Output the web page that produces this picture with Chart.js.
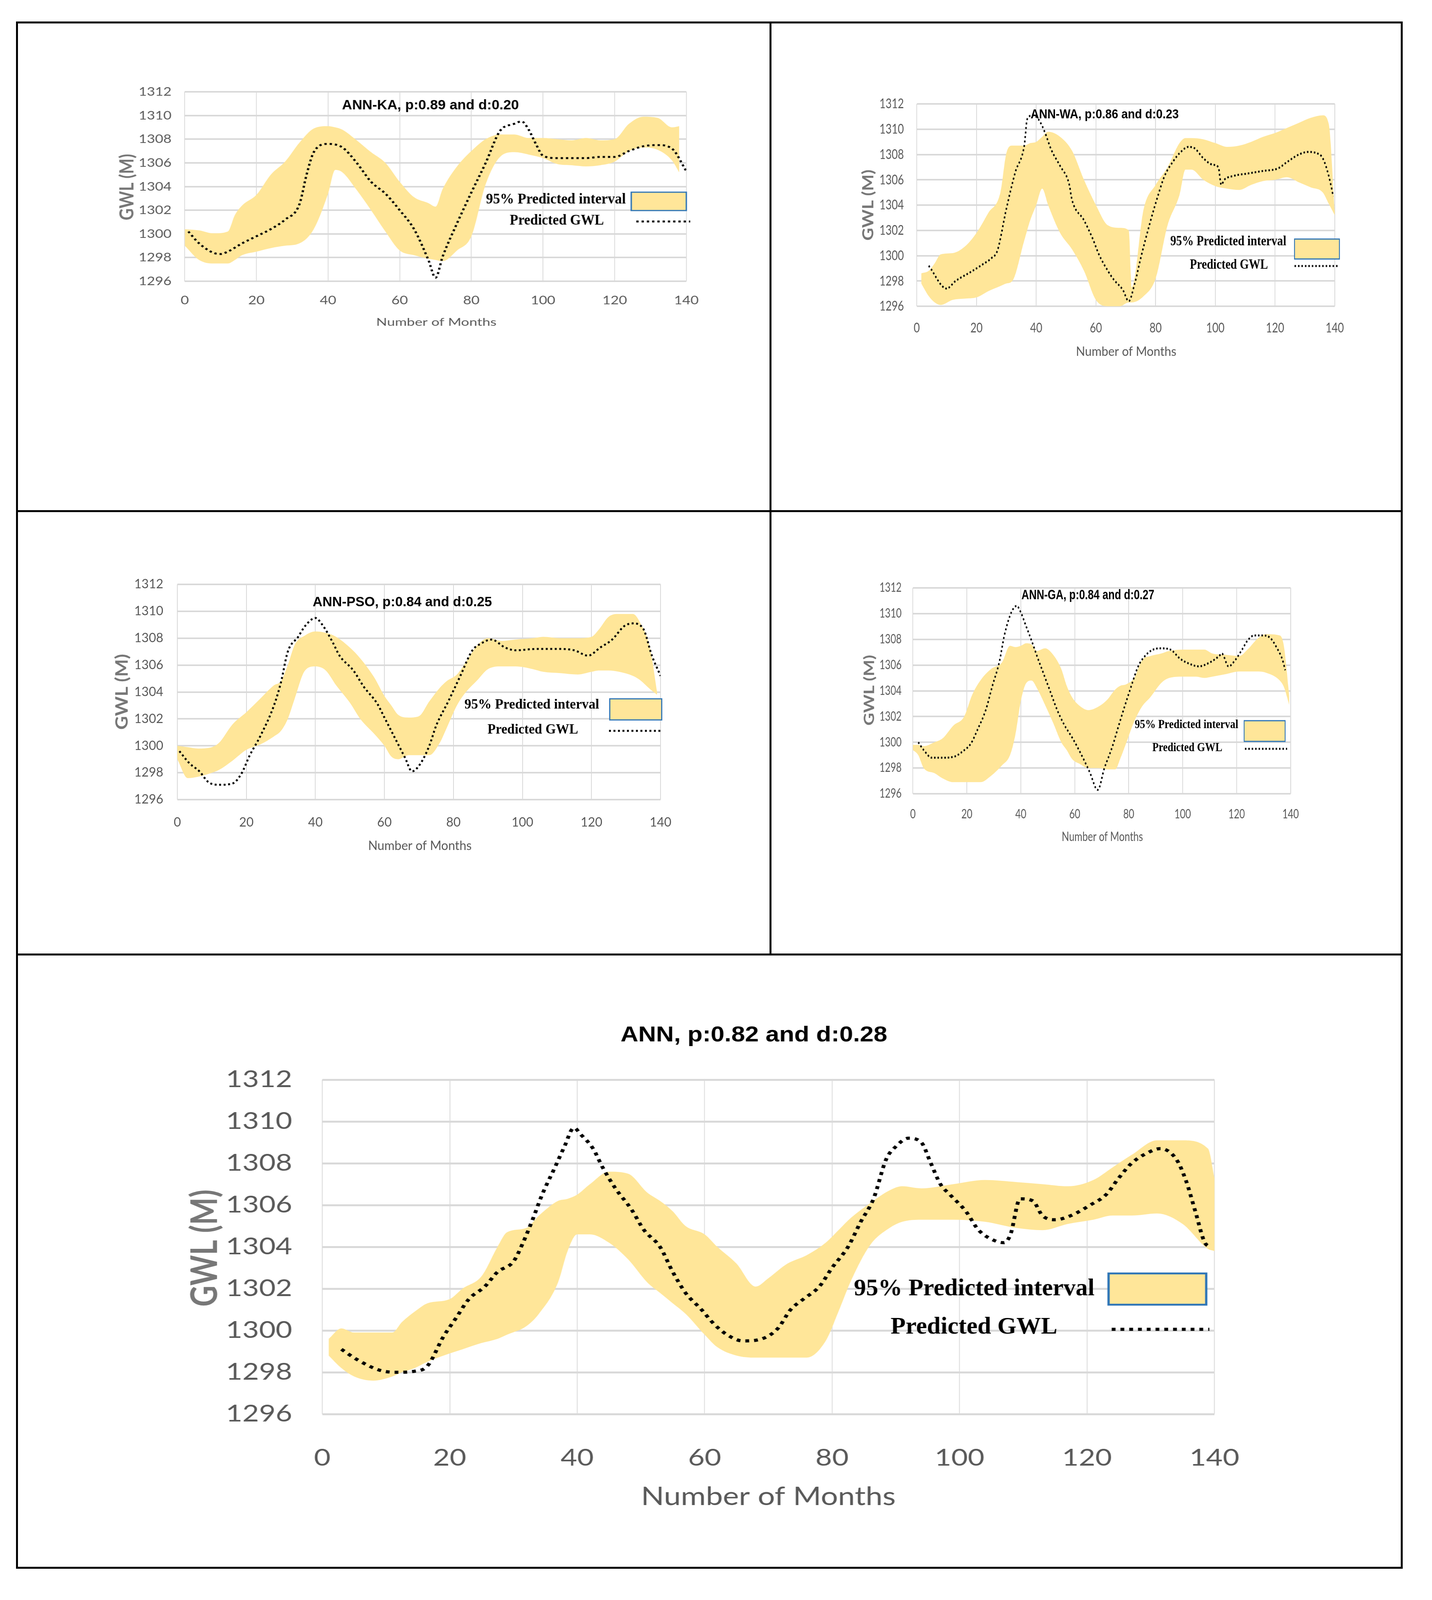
<!DOCTYPE html>
<html>
<head>
<meta charset="utf-8">
<title>GWL prediction intervals</title>
<script src="https://cdn.jsdelivr.net/npm/chart.js@4.4.1/dist/chart.umd.min.js"></script>
<style>
  html, body { margin: 0; padding: 0; background: #fff; }
  body { position: relative; width: 3666px; height: 5586px; overflow: hidden; }
  .rule { position: absolute; background: #000; z-index: 5; }
  .panel { position: absolute; transform-origin: 0 0; }
  .panel canvas { display: block; }
  #tag { position: absolute; left: 1627px; top: 4088px; width: 400px; text-align: center;
         font: bold 72px/72px "Liberation Serif", "Times New Roman", serif; color: #000; }
</style>
</head>
<body>
<div id="tag">(b)</div>
<script>
// ---- axes ----
const monthTicks = [0, 20, 40, 60, 80, 100, 120, 140];
const gwlTicks = [1296, 1298, 1300, 1302, 1304, 1306, 1308, 1310, 1312];

// ---- ANN-KA ----
const kaBandMonths = [0,4,8,12,14,16,20,24,28,32,36,40,42,44,48,52,56,60,64,68,70,72,76,80,84,88,92,96,100,104,108,112,116,120,124,128,132,136,138];
const kaUpper = [1300.4,1300.3,1300.05,1300.2,1301.6,1302.4,1303.3,1305.0,1306.1,1307.7,1308.9,1309.1,1309.0,1308.8,1307.9,1306.9,1306.0,1304.4,1303.1,1302.6,1302.3,1303.8,1305.7,1307.0,1308.0,1308.4,1308.4,1308.1,1308.1,1308.0,1307.9,1308.1,1307.9,1308.0,1309.3,1309.9,1309.8,1309.0,1309.1];
const kaLower = [1299.0,1297.8,1297.5,1297.5,1297.8,1298.2,1298.5,1298.8,1299.0,1299.2,1300.4,1303.4,1305.4,1305.2,1303.7,1302.0,1300.2,1298.6,1298.2,1297.9,1297.8,1297.7,1298.6,1299.8,1304.2,1306.5,1306.9,1306.7,1306.4,1305.9,1305.8,1305.7,1305.8,1306.1,1307.0,1307.3,1307.1,1306.2,1305.2];
const kaLineMonths = [1,4,8,10,12,16,20,24,28,32,34,36,40,44,48,52,56,60,64,68,70,72,76,80,84,88,92,94,96,98,100,104,108,112,116,120,124,128,132,136,140];
const kaPredicted = [1300.2,1299.2,1298.4,1298.3,1298.5,1299.2,1299.8,1300.4,1301.2,1302.5,1305.0,1306.9,1307.6,1307.3,1306.0,1304.4,1303.4,1302.0,1300.4,1297.8,1296.3,1298.1,1300.9,1303.5,1306.0,1308.7,1309.3,1309.5,1308.8,1307.6,1306.6,1306.4,1306.4,1306.4,1306.5,1306.5,1307.0,1307.4,1307.5,1307.2,1305.3];

// ---- ANN-WA ----
const waBandMonths = [1.5,4,6,8,12,16,20,24,28,30,32,36,38,40,42,44,48,52,56,60,64,68,71,72,76,80,84,88,90,92,96,100,104,108,112,116,120,124,128,132,136,138,140];
const waUpper = [1298.6,1298.8,1299.4,1300.1,1300.2,1300.7,1301.8,1303.4,1305.0,1308.1,1308.7,1308.7,1308.9,1309.0,1309.4,1309.8,1309.4,1308.3,1306.0,1304.0,1302.4,1302.2,1302.0,1297.5,1303.7,1305.6,1307.0,1308.9,1309.3,1309.3,1309.2,1308.9,1308.6,1308.7,1309.0,1309.4,1309.7,1310.1,1310.5,1310.9,1311.1,1310.4,1303.5];
const waLower = [1297.8,1296.8,1296.3,1296.1,1296.5,1296.6,1296.7,1297.2,1297.6,1297.8,1298.0,1301.2,1302.8,1304.0,1305.3,1304.0,1301.8,1300.5,1298.8,1296.5,1296.0,1296.0,1296.3,1296.3,1296.8,1298.2,1302.4,1304.8,1306.8,1306.8,1306.0,1305.5,1305.3,1305.2,1305.6,1305.9,1306.0,1306.2,1305.8,1305.4,1305.0,1304.1,1303.2];
const waLineMonths = [4,10,13,18,22,25,27,30,33,36,37,39,41,43,45,48,51,52,56,59,61,64,66,69,71,73,75,78,81,83,86,88,91,93,96,99,101,102,103,106,111,116,121,124,128,131,134,136,138,139.5];
const waPredicted = [1299.2,1297.4,1298.0,1298.7,1299.3,1299.8,1300.4,1303.7,1306.6,1308.7,1310.8,1311.1,1310.7,1309.7,1308.4,1307.1,1305.7,1304.4,1302.8,1301.3,1300.1,1298.8,1298.1,1297.3,1296.4,1297.8,1299.8,1302.5,1304.9,1306.3,1307.5,1308.1,1308.6,1308.5,1307.7,1307.2,1307.0,1305.6,1306.0,1306.3,1306.5,1306.7,1306.9,1307.4,1308.0,1308.2,1308.1,1307.7,1306.3,1304.7];

// ---- ANN-PSO ----
const psoBandMonths = [0,3,6,10,12,16,20,24,28,30,32,34,37,40,43,46,50,53,57,60,62,64,67,70,73,76,78,81,83,87,90,94,98,103,106,111,116,120,122,125,128,132,134,137,139];
const psoUpper = [1300.0,1299.9,1299.8,1299.9,1300.2,1301.6,1302.5,1303.5,1304.5,1304.8,1306.0,1307.5,1308.2,1308.5,1308.4,1308.1,1307.3,1306.5,1305.1,1303.7,1303.0,1302.3,1302.1,1302.2,1303.3,1304.3,1304.8,1305.3,1306.0,1307.5,1308.0,1307.8,1307.9,1308.0,1308.1,1308.0,1308.0,1308.1,1308.6,1309.6,1309.8,1309.8,1309.2,1307.2,1304.0];
const psoLower = [1299.0,1297.6,1297.7,1298.0,1298.2,1298.9,1299.7,1300.1,1300.7,1301.1,1302.0,1303.5,1305.6,1305.9,1305.6,1304.5,1303.2,1302.0,1300.9,1300.0,1299.2,1299.0,1299.3,1299.3,1299.3,1300.2,1301.3,1303.0,1303.8,1304.9,1305.7,1305.9,1305.9,1305.7,1305.5,1305.4,1305.3,1305.5,1305.6,1305.6,1305.5,1305.2,1304.9,1304.2,1303.8];
const psoLineMonths = [0.6,3.5,6.4,9,12,16,18.5,21,24,28,30,32,35,37,40,42,45,47,51,54,58,60,63,66,68,70.5,73,75,78.5,82,85.5,88,91,95,98,104,110,115,119,122.5,126,129.5,132,135,137.5,140];
const psoPredicted = [1299.6,1298.7,1298.1,1297.3,1297.1,1297.2,1297.9,1299.3,1300.7,1303.0,1304.7,1307.0,1308.1,1308.9,1309.5,1309.0,1307.7,1306.7,1305.6,1304.4,1303.1,1302.1,1300.6,1299.1,1298.1,1298.7,1300.0,1301.5,1303.3,1305.2,1307.1,1307.6,1307.9,1307.3,1307.1,1307.2,1307.2,1307.1,1306.7,1307.3,1307.9,1308.9,1309.1,1308.7,1306.7,1305.2];

// ---- ANN-GA ----
const gaBandMonths = [0,2,4,8,11,15,19,22,25,29,33,36,38,40,42,44,46,49,52,55,57,59,62,65,69,72,75,77,79,82,85,88,92,95,100,105,108,111,116,121,124,128,131,136,137.5,139.5];
const gaUpper = [1299.8,1299.8,1299.7,1300.0,1300.3,1301.3,1302.0,1303.7,1304.8,1305.7,1306.2,1307.5,1307.4,1307.5,1307.7,1307.6,1307.1,1307.3,1306.8,1305.7,1304.4,1303.5,1302.8,1302.5,1302.8,1303.3,1304.1,1304.4,1304.5,1305.0,1306.4,1306.7,1306.9,1307.1,1307.2,1307.2,1307.2,1306.9,1306.8,1306.7,1307.2,1308.1,1308.4,1308.3,1307.5,1303.6];
const gaLower = [1299.4,1299.0,1298.0,1297.6,1297.2,1296.9,1296.9,1296.9,1296.9,1297.4,1298.2,1299.0,1300.6,1303.2,1304.6,1304.8,1304.2,1302.9,1301.5,1300.0,1299.4,1298.7,1298.3,1298.0,1298.0,1297.9,1297.9,1298.8,1299.9,1301.6,1302.8,1303.5,1304.6,1305.0,1305.1,1305.1,1305.0,1305.1,1305.3,1305.5,1305.5,1305.5,1305.4,1304.8,1304.3,1302.9];
const gaLineMonths = [2,4,7,11,15.5,18.5,21.5,24,27,29.5,32,34,36.5,38.5,40,42,44,46,48.5,51,53.5,56,59.5,63,65.5,68.5,71,74,76,78.5,81,83.5,86,89,92,95.5,99,102.5,106,110,113.5,114.5,117,119.5,122,124,126.5,130,132.5,135,137,138];
const gaPredicted = [1300.0,1299.4,1298.8,1298.8,1298.9,1299.3,1299.9,1301.0,1302.5,1304.4,1306.2,1308.4,1310.1,1310.6,1310.1,1309.0,1307.9,1306.7,1305.3,1303.9,1302.5,1301.4,1300.2,1298.8,1297.7,1296.3,1298.0,1299.7,1301.1,1302.8,1304.4,1305.9,1306.7,1307.2,1307.3,1307.2,1306.5,1306.1,1305.9,1306.2,1306.7,1306.9,1305.9,1306.4,1307.2,1307.9,1308.3,1308.3,1308.1,1307.3,1306.4,1305.6];

// ---- ANN ----
const annBandMonths = [1,3,5,8,11,12.5,14.5,16.5,20,22,25,27.5,29,32,34,37,38.5,40,42,45,48,51,53,55,57,60,62,65,68,70,73,76,79,81,83,86,89,91,94,99,104,109,113,117,121,124,127,131,135,139,140];
const annUpper = [1299.6,1300.1,1299.9,1299.9,1299.9,1300.4,1300.9,1301.3,1301.5,1302.0,1302.6,1304.0,1304.7,1304.9,1305.5,1306.2,1306.3,1306.5,1307.0,1307.6,1307.5,1306.6,1306.2,1305.7,1305.0,1304.6,1304.0,1303.2,1302.1,1302.5,1303.2,1303.6,1304.2,1304.8,1305.4,1306.1,1306.7,1306.9,1306.8,1307.0,1307.2,1307.1,1307.0,1306.9,1307.2,1307.8,1308.4,1309.1,1309.1,1308.7,1307.3];
const annLower = [1298.8,1298.2,1297.8,1297.6,1297.8,1298.0,1298.2,1298.5,1298.9,1299.1,1299.4,1299.6,1299.8,1300.2,1300.8,1302.3,1303.8,1304.6,1304.6,1304.2,1303.4,1302.3,1301.8,1301.3,1300.8,1299.8,1299.2,1298.8,1298.7,1298.7,1298.7,1298.7,1299.5,1300.9,1302.4,1304.1,1304.9,1305.2,1305.3,1305.3,1305.2,1304.9,1304.8,1305.1,1305.3,1305.5,1305.5,1305.6,1305.1,1303.9,1303.8];
const annLineMonths = [3,5.5,9,11.5,14.5,16.5,19,21,23,25.5,27.5,30,31.5,33,34.5,36.5,38,39.5,40.5,42.5,44,46,48.5,50.5,53,55,57,59.5,61.5,63.5,66,69,71.5,73.5,75.5,78,80,82.5,84.5,86.5,88.5,90,92,94,95.5,97,98.5,101,103,105.5,107,108,109.5,111.5,113,115,117.5,120.5,123,125,127,129.5,131.5,134,135.5,137,138.5,139.5];
const annPredicted = [1299.1,1298.6,1298.1,1298.0,1298.05,1298.3,1299.7,1300.6,1301.5,1302.1,1302.8,1303.3,1304.2,1305.3,1306.5,1307.8,1308.8,1309.7,1309.4,1308.7,1307.8,1306.8,1305.8,1304.8,1304.0,1302.8,1301.8,1301.0,1300.3,1299.8,1299.5,1299.6,1300.1,1301.0,1301.5,1302.1,1303.0,1304.0,1305.2,1306.3,1308.2,1308.8,1309.2,1309.0,1308.0,1307.0,1306.5,1305.7,1304.8,1304.3,1304.2,1304.6,1306.3,1306.2,1305.5,1305.3,1305.5,1306.0,1306.5,1307.3,1308.0,1308.5,1308.7,1308.2,1307.2,1305.7,1304.2,1304.0];

// ---- ANN-GOA ----
const goaBandMonths = [0,2.5,6,9,11,14.5,18,19.5,22,25.5,27.5,30,32,35,38.5,40.5,42,45,48,51.5,55,57,59.5,62.5,65,67,69,71.5,73.5,75.5,78,81,83.5,86.5,91,95.5,100,104,108.5,113,116,118.5,121.5,125,128.5,132.5,137,138.5,140];
const goaUpper = [1300.7,1300.4,1300.4,1300.4,1300.8,1301.7,1302.5,1303.0,1304.1,1305.0,1305.9,1307.8,1309.1,1310.1,1310.4,1310.35,1310.3,1310.0,1309.6,1308.9,1307.8,1306.9,1305.7,1303.8,1302.6,1302.1,1302.1,1302.4,1303.3,1303.9,1305.0,1307.3,1309.5,1309.9,1310.0,1309.4,1309.3,1309.2,1309.4,1309.1,1309.4,1309.9,1309.6,1310.7,1311.2,1311.4,1311.6,1311.4,1304.0];
const goaLower = [1299.9,1298.9,1298.0,1297.3,1297.1,1297.0,1297.4,1297.7,1298.6,1299.0,1299.1,1299.3,1299.9,1301.4,1303.4,1305.0,1304.5,1305.4,1304.2,1303.0,1301.5,1300.4,1299.0,1298.3,1297.9,1297.8,1297.8,1297.9,1298.2,1298.4,1299.8,1302.2,1303.9,1306.3,1307.3,1306.7,1306.0,1305.6,1305.8,1306.2,1306.4,1306.5,1306.8,1307.3,1307.5,1307.3,1306.0,1305.2,1303.9];
const goaLineMonths = [0.5,2.5,5.5,8.5,11,14.5,16,18.5,21,24.5,27.5,31,34,37.5,39.5,42,43.5,45,48,50.5,54,57,60.5,63.5,65.5,66.5,68,71,72.5,74,76.5,79,82.5,85,87,89.5,91,93.5,96.5,100,104,108.5,111.5,114,117.5,120.5,124,127,130.5,134,135.5,137,138.5,140];
const goaPredicted = [1300.7,1299.6,1298.9,1298.1,1297.6,1297.6,1298.0,1298.9,1300.1,1301.4,1303.0,1304.7,1306.3,1308.1,1309.3,1309.6,1309.6,1309.1,1307.9,1306.7,1305.2,1303.3,1301.2,1299.6,1298.5,1297.3,1296.4,1296.5,1297.0,1298.3,1300.4,1302.4,1305.1,1307.0,1309.3,1311.0,1310.7,1310.0,1309.4,1308.9,1308.7,1308.7,1308.4,1308.3,1308.4,1309.0,1309.7,1310.5,1311.0,1311.5,1311.3,1309.6,1307.9,1306.7];

// ---- ANN-CSO ----
const csoBandMonths = [0,2,4,6.5,9,11,14.5,18,21.5,25,27,30.5,33,36,38.5,41,42.5,44,48,51,53.5,54.5,57,59,61.5,63,65,67.5,69.5,72,75,77.5,80,82,84.5,87.5,91,94.5,98,101.5,105,107.5,110.5,114,118.5,122,124,127.5,132,135.5,137.5,139,140];
const csoUpper = [1299.4,1299.1,1298.8,1299.0,1299.4,1299.9,1300.5,1301.6,1302.9,1303.7,1304.6,1306.2,1307.3,1307.9,1308.2,1308.3,1308.8,1308.3,1307.6,1307.1,1306.9,1307.3,1306.0,1304.9,1303.8,1303.3,1302.4,1301.3,1302.1,1302.4,1303.8,1305.9,1304.8,1306.3,1306.9,1307.6,1307.8,1307.4,1306.6,1306.6,1306.8,1307.2,1307.1,1306.8,1306.8,1307.1,1308.4,1308.9,1309.1,1308.9,1308.5,1305.6,1302.5];
const csoLower = [1298.7,1297.9,1297.2,1296.3,1296.2,1296.25,1296.4,1296.7,1297.0,1297.3,1297.6,1298.0,1298.3,1299.4,1301.0,1304.1,1304.4,1303.9,1302.9,1301.6,1300.2,1299.6,1298.2,1296.7,1296.4,1296.4,1296.4,1296.5,1296.6,1296.8,1297.3,1298.2,1299.6,1301.0,1303.0,1304.4,1304.7,1304.5,1304.0,1303.6,1303.5,1303.6,1303.6,1303.6,1303.8,1304.1,1304.6,1305.2,1305.2,1304.9,1304.3,1303.5,1302.4];
const csoLineMonths = [3,4.5,7,9,11,13,15,17.5,20.5,24,27,30,32.5,34,35.5,37.5,39.5,42,44.5,46.5,49,51,53.5,55.5,58,60.5,62.5,66,67.5,69.5,71.5,74,76.5,78,79.5,82,84.5,86.5,90,92.5,94.5,97.5,99.5,102.5,106,107.5,110,113,117.5,120,123,125.5,127.5,129.5,131,133.5,135.5,137.5,138.5];
const csoPredicted = [1299.2,1298.8,1298.3,1297.1,1296.5,1296.6,1297.7,1298.2,1298.8,1299.8,1300.7,1302.1,1304.1,1305.9,1307.7,1308.8,1309.8,1309.7,1309.0,1307.9,1306.9,1305.7,1304.4,1302.9,1301.0,1299.8,1299.3,1298.9,1298.7,1299.0,1299.3,1299.9,1301.5,1302.7,1303.5,1304.8,1306.3,1306.6,1306.9,1306.8,1306.3,1305.7,1305.5,1305.6,1305.9,1306.0,1305.8,1305.6,1305.6,1305.7,1306.3,1306.9,1307.7,1308.0,1307.6,1306.6,1305.4,1304.3,1304.1];

const BAND = '#ffe699';
const GRID = '#d9d9d9';
const TICK = '#595959';

// layout of each panel, in page pixels
const panels = [
  { title: 'ANN-KA, p:0.89 and d:0.20', bandX: kaBandMonths, upper: kaUpper, lower: kaLower, lineX: kaLineMonths, line: kaPredicted,
    box: {x: 48, y: 62, w: 1919, h: 1241}, plot: {L: 473, R: 1757, T: 235, B: 720}, k: 1.17, tick: 31, yTickRight: 439, xTickCY: 769, lw: 5, gridW: 4,
    ttl: {cx: 1102, cy: 267, w: 453, cap: 25}, xt: {cx: 1117, cy: 824, w: 308, cap: 20}, yt: {cx: 324, cy: 479, len: 170, thick: 36},
    lg: {t1: {r: 1602, cy: 508, w: 358, cap: 25}, t2: {r: 1546, cy: 562, w: 241, cap: 25}, box: [1616, 492, 1757, 539], dots: [1629, 1767, 567]} },
  { title: 'ANN-WA, p:0.86 and d:0.23', bandX: waBandMonths, upper: waUpper, lower: waLower, lineX: waLineMonths, line: waPredicted,
    box: {x: 1977, y: 62, w: 1607, h: 1241}, plot: {L: 2347, R: 3417, T: 266, B: 784}, k: 0.77, tick: 35, yTickRight: 2314, xTickCY: 840, lw: 5, gridW: 4,
    ttl: {cx: 2828, cy: 291, w: 379, cap: 24}, xt: {cx: 2883, cy: 899, w: 257, cap: 24}, yt: {cx: 2221, cy: 525, len: 182, thick: 29},
    lg: {t1: {r: 3293, cy: 616, w: 297, cap: 24}, t2: {r: 3246, cy: 676, w: 200, cap: 24}, box: [3314, 612, 3429, 663], dots: [3314, 3427, 681]} },
  { title: 'ANN-PSO, p:0.84 and d:0.25', bandX: psoBandMonths, upper: psoUpper, lower: psoLower, lineX: psoLineMonths, line: psoPredicted,
    box: {x: 48, y: 1313, w: 1919, h: 1125}, plot: {L: 454, R: 1691, T: 1496, B: 2047}, k: 1.0, tick: 32, yTickRight: 418, xTickCY: 2106, lw: 5, gridW: 4,
    ttl: {cx: 1030, cy: 1539, w: 459, cap: 25}, xt: {cx: 1075, cy: 2164, w: 265, cap: 24}, yt: {cx: 311, cy: 1771, len: 194, thick: 31},
    lg: {t1: {r: 1534, cy: 1802, w: 345, cap: 23}, t2: {r: 1480, cy: 1866, w: 232, cap: 23}, box: [1561, 1789, 1694, 1843], dots: [1559, 1692, 1871]} },
  { title: 'ANN-GA, p:0.84 and d:0.27', bandX: gaBandMonths, upper: gaUpper, lower: gaLower, lineX: gaLineMonths, line: gaPredicted,
    box: {x: 1977, y: 1313, w: 1607, h: 1125}, plot: {L: 2337, R: 3304, T: 1505, B: 2032}, k: 0.76, tick: 32, yTickRight: 2308, xTickCY: 2085, lw: 5, gridW: 4,
    ttl: {cx: 2785, cy: 1521, w: 340, cap: 25}, xt: {cx: 2822, cy: 2141, w: 208, cap: 23}, yt: {cx: 2225, cy: 1767, len: 181, thick: 26},
    lg: {t1: {r: 3170, cy: 1853, w: 265, cap: 21}, t2: {r: 3129, cy: 1912, w: 179, cap: 21}, box: [3185, 1845, 3290, 1898], dots: [3187, 3295, 1917]} },
  { title: 'ANN, p:0.82 and d:0.28', bandX: annBandMonths, upper: annUpper, lower: annLower, lineX: annLineMonths, line: annPredicted,
    box: {x: 48, y: 2448, w: 3536, h: 1560}, plot: {L: 825, R: 3109, T: 2764, B: 3620}, k: 1.22, tick: 60, yTickRight: 748, xTickCY: 3733, lw: 8, gridW: 5,
    ttl: {cx: 1930, cy: 2646, w: 683, cap: 40}, xt: {cx: 1967, cy: 3829, w: 652, cap: 47}, yt: {cx: 521, cy: 3195, len: 300, thick: 68},
    lg: {t1: {r: 2802, cy: 3296, w: 616, cap: 40}, t2: {r: 2707, cy: 3394, w: 427, cap: 40}, box: [2838, 3260, 3088, 3340], dots: [2846, 3096, 3403]} },
  { title: 'ANN-GOA, p:0.93 and d:0.16', bandX: goaBandMonths, upper: goaUpper, lower: goaLower, lineX: goaLineMonths, line: goaPredicted,
    box: {x: 48, y: 4276, w: 1919, h: 1259}, plot: {L: 462, R: 1767, T: 4462, B: 5116}, k: 0.92, tick: 37, yTickRight: 423, xTickCY: 5186, lw: 5, gridW: 4,
    ttl: {cx: 1031, cy: 4422, w: 490, cap: 30}, xt: {cx: 1115, cy: 5256, w: 281, cap: 28}, yt: {cx: 313, cy: 4789, len: 224, thick: 34},
    lg: {t1: {r: 1612, cy: 4844, w: 362, cap: 27}, t2: {r: 1556, cy: 4916, w: 243, cap: 27}, box: [1635, 4815, 1776, 4878], dots: [1635, 1778, 4924]} },
  { title: 'ANN-CSO, p:0.91 and d:0.19', bandX: csoBandMonths, upper: csoUpper, lower: csoLower, lineX: csoLineMonths, line: csoPredicted,
    box: {x: 1977, y: 4276, w: 1607, h: 1259}, plot: {L: 2291, R: 3347, T: 4499, B: 5119}, k: 0.77, tick: 37, yTickRight: 2262, xTickCY: 5181, lw: 5, gridW: 4,
    ttl: {cx: 2748, cy: 4450, w: 392, cap: 27}, xt: {cx: 2820, cy: 5246, w: 226, cap: 28}, yt: {cx: 2171, cy: 4810, len: 212, thick: 30},
    lg: {t1: {r: 3221, cy: 4913, w: 294, cap: 27}, t2: {r: 3176, cy: 4986, w: 198, cap: 27}, box: [3230, 4876, 3346, 4935], dots: [3238, 3354, 4993]} }
];

// frame rules
function rule(x, y, w, h) {
  const d = document.createElement('div');
  d.className = 'rule';
  d.style.left = x + 'px'; d.style.top = y + 'px';
  d.style.width = w + 'px'; d.style.height = h + 'px';
  document.body.appendChild(d);
}
rule(41, 55, 3550, 5); rule(41, 4011, 3550, 5);
rule(41, 55, 5, 3961); rule(3586, 55, 5, 3961);
rule(41, 1306, 3550, 5); rule(41, 2441, 3550, 5);
rule(1970, 55, 5, 2391);
rule(41, 4269, 3550, 5); rule(41, 5538, 3550, 5);
rule(41, 4269, 5, 1274); rule(3586, 4269, 5, 1274); rule(1970, 4269, 5, 1274);

function pts(xs, ys) {
  return xs.map(function (x, i) { return {x: x, y: ys[i]}; });
}

// draws text squeezed or stretched to a given width
function fitText(ctx, text, x, baseline, width, font, align) {
  ctx.save();
  ctx.font = font;
  const m = ctx.measureText(text).width;
  ctx.translate(x, baseline);
  ctx.scale(width / m, 1);
  ctx.textAlign = align;
  ctx.textBaseline = 'alphabetic';
  ctx.fillText(text, 0, 0);
  ctx.restore();
}

function decorPlugin(p) {
  const ix = v => (v - p.box.x) / p.k;
  const iy = v => v - p.box.y;
  return {
    id: 'decor',
    beforeDatasetsDraw(chart) {
      const ctx = chart.ctx, lg = p.lg;
      ctx.save();
      ctx.fillStyle = '#000';
      fitText(ctx, '95% Predicted interval', ix(lg.t1.r), iy(lg.t1.cy) + lg.t1.cap / 2, lg.t1.w / p.k,
        'bold ' + (lg.t1.cap / 0.655).toFixed(1) + 'px "Liberation Serif"', 'right');
      fitText(ctx, 'Predicted GWL', ix(lg.t2.r), iy(lg.t2.cy) + lg.t2.cap / 2, lg.t2.w / p.k,
        'bold ' + (lg.t2.cap / 0.655).toFixed(1) + 'px "Liberation Serif"', 'right');
      const b = lg.box;
      ctx.fillStyle = BAND;
      ctx.fillRect(ix(b[0]), iy(b[1]), ix(b[2]) - ix(b[0]), iy(b[3]) - iy(b[1]));
      ctx.strokeStyle = '#2e75b6';
      ctx.lineWidth = p.lw * 0.6;
      ctx.strokeRect(ix(b[0]), iy(b[1]), ix(b[2]) - ix(b[0]), iy(b[3]) - iy(b[1]));
      ctx.strokeStyle = '#000';
      ctx.lineWidth = p.lw;
      ctx.setLineDash([p.lw, p.lw * 1.3]);
      ctx.beginPath();
      ctx.moveTo(ix(lg.dots[0]), iy(lg.dots[2]));
      ctx.lineTo(ix(lg.dots[1]), iy(lg.dots[2]));
      ctx.stroke();
      ctx.restore();
    },
    afterDraw(chart) {
      const ctx = chart.ctx;
      ctx.save();
      ctx.fillStyle = '#000';
      fitText(ctx, p.title, ix(p.ttl.cx), iy(p.ttl.cy) + p.ttl.cap / 2, p.ttl.w / p.k,
        'bold ' + (p.ttl.cap / 0.716).toFixed(1) + 'px "Liberation Sans"', 'center');
      ctx.fillStyle = TICK;
      fitText(ctx, 'Number of Months', ix(p.xt.cx), iy(p.xt.cy) + p.xt.cap / 2, p.xt.w / p.k,
        (p.xt.cap / 0.72).toFixed(1) + 'px Lato', 'center');
      // rotated y title
      const f = p.yt.thick / (0.72 * p.k);
      ctx.font = 'bold ' + f.toFixed(1) + 'px Lato';
      const m = ctx.measureText('GWL (M)').width;
      ctx.fillStyle = '#777';
      ctx.translate(ix(p.yt.cx), iy(p.yt.cy));
      ctx.rotate(-Math.PI / 2);
      ctx.scale(p.yt.len / m, 1);
      ctx.textAlign = 'center';
      ctx.textBaseline = 'alphabetic';
      ctx.fillText('GWL (M)', 0, f * 0.36);
      ctx.restore();
    }
  };
}

function buildPanel(p) {
  const W = Math.round(p.box.w / p.k), H = p.box.h;
  const wrap = document.createElement('div');
  wrap.className = 'panel';
  wrap.style.left = p.box.x + 'px';
  wrap.style.top = p.box.y + 'px';
  wrap.style.width = W + 'px';
  wrap.style.height = H + 'px';
  wrap.style.transform = 'scaleX(' + p.k + ')';
  const cv = document.createElement('canvas');
  cv.width = W; cv.height = H;
  cv.style.width = W + 'px'; cv.style.height = H + 'px';
  wrap.appendChild(cv);
  document.body.appendChild(wrap);

  const left = (p.plot.L - p.box.x) / p.k;
  const right = (p.plot.R - p.box.x) / p.k;
  const top = p.plot.T - p.box.y;
  const bottom = p.plot.B - p.box.y;
  const yW = left - 10;
  const xH = H - bottom - 10;
  const xPad = (p.xTickCY - p.plot.B) - 0.6 * p.tick;
  const yPad = (p.plot.L - p.yTickRight) / p.k;

  new Chart(cv, {
    type: 'line',
    data: {
      datasets: [
        { label: 'Predicted GWL', data: pts(p.lineX, p.line), borderColor: '#000', borderWidth: p.lw,
          borderDash: [p.lw, p.lw * 1.3], pointRadius: 0, fill: false, cubicInterpolationMode: 'monotone' },
        { label: '95% Predicted interval', data: pts(p.bandX, p.upper), borderWidth: 0, borderColor: 'rgba(0,0,0,0)',
          pointRadius: 0, backgroundColor: BAND, fill: '+1', cubicInterpolationMode: 'monotone' },
        { label: 'lower bound', data: pts(p.bandX, p.lower), borderWidth: 0, borderColor: 'rgba(0,0,0,0)',
          pointRadius: 0, fill: false, cubicInterpolationMode: 'monotone' }
      ]
    },
    options: {
      responsive: false,
      animation: false,
      devicePixelRatio: 1,
      layout: { padding: { left: 10, right: W - right, top: top, bottom: 10 } },
      plugins: { legend: { display: false }, tooltip: { enabled: false } },
      scales: {
        x: {
          type: 'linear', min: monthTicks[0], max: monthTicks[monthTicks.length - 1],
          afterFit: function (s) { s.height = xH; },
          afterBuildTicks: function (s) { s.ticks = monthTicks.map(v => ({value: v})); },
          ticks: { padding: xPad, color: TICK, maxRotation: 0, autoSkip: false,
                   font: { family: 'Lato', size: p.tick }, callback: v => String(v) },
          grid: { color: GRID, lineWidth: 2 / p.k, drawTicks: false },
          border: { display: false }
        },
        y: {
          type: 'linear', min: gwlTicks[0], max: gwlTicks[gwlTicks.length - 1],
          afterFit: function (s) { s.width = yW; },
          afterBuildTicks: function (s) { s.ticks = gwlTicks.map(v => ({value: v})); },
          ticks: { padding: yPad, color: TICK, autoSkip: false,
                   font: { family: 'Lato', size: p.tick }, callback: v => String(v) },
          grid: { color: GRID, lineWidth: p.gridW, drawTicks: false },
          border: { display: false }
        }
      }
    },
    plugins: [decorPlugin(p)]
  });
}

panels.forEach(buildPanel);
</script>
</body>
</html>
